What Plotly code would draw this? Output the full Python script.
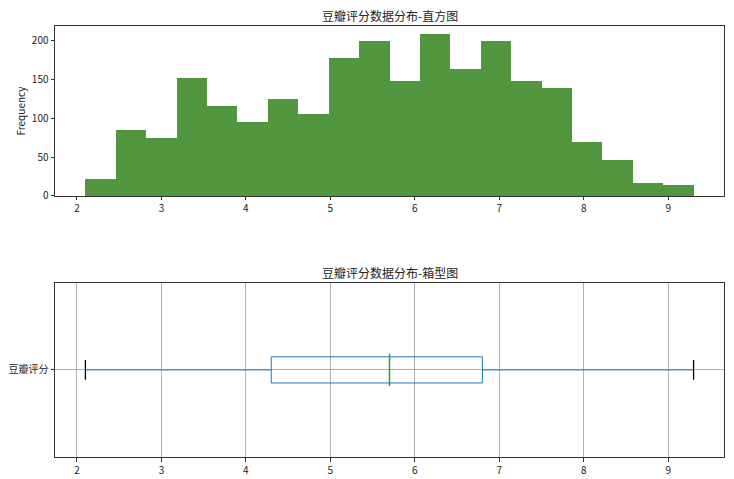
import plotly.graph_objects as go
from plotly.subplots import make_subplots

# histogram: 20 bins between min and max rating
bin_start = 2.1
bin_end = 9.3
bin_counts = [22, 85, 75, 152, 116, 95, 125, 105, 178, 200,
              148, 209, 163, 200, 148, 139, 69, 46, 17, 14]

# box plot stats
box_label = ['豆瓣评分']
q_min = [2.1]
q1 = [4.3]
q_median = [5.7]
q3 = [6.8]
q_max = [9.3]

n_bins = len(bin_counts)
bin_w = (bin_end - bin_start) / n_bins
bin_centers = [bin_start + bin_w * (i + 0.5) for i in range(n_bins)]

font = "Noto Sans CJK SC, DejaVu Sans, sans-serif"

fig = make_subplots(rows=2, cols=1)

fig.add_trace(go.Bar(x=bin_centers, y=bin_counts, width=bin_w,
                     marker=dict(color='#52963f', line=dict(width=0)),
                     showlegend=False), row=1, col=1)

fig.add_trace(go.Box(y=box_label, q1=q1, median=q_median, q3=q3,
                     lowerfence=q_min, upperfence=q_max, orientation='h',
                     width=0.15, whiskerwidth=0.01,
                     fillcolor='rgba(0,0,0,0)',
                     line=dict(color='#1f77b4', width=1),
                     boxpoints=False, hoverinfo='skip', showlegend=False), row=2, col=1)

# black whisker caps and green median line on top of the box
fig.add_trace(go.Scatter(x=q_min + q_max, y=box_label * 2, mode='markers',
                         marker=dict(symbol='line-ns', size=14,
                                     line=dict(color='black', width=1.3)),
                         showlegend=False, hoverinfo='skip'), row=2, col=1)
fig.add_trace(go.Scatter(x=q_median, y=box_label, mode='markers',
                         marker=dict(symbol='line-ns', size=23, color='#2ca02c',
                                     line=dict(color='#2ca02c', width=1.5)),
                         showlegend=False, hoverinfo='skip'), row=2, col=1)

axis_style = dict(showline=True, linecolor='#333', linewidth=1, mirror=True,
                  ticks='outside', ticklen=3.5, tickcolor='#333', automargin=False,
                  tickfont=dict(size=10, color='#222', family=font), zeroline=False)

fig.update_xaxes(range=[1.74, 9.66], dtick=1, showgrid=False, **axis_style, row=1, col=1)
fig.update_yaxes(range=[0, 219], dtick=50, showgrid=False, domain=[0.592, 0.977],
                 title=dict(text='Frequency', font=dict(size=10, color='#222', family=font), standoff=4),
                 **axis_style, row=1, col=1)
fig.update_xaxes(range=[1.74, 9.66], dtick=1, showgrid=True, gridcolor='#b0b0b0',
                 **axis_style, row=2, col=1)
fig.update_yaxes(range=[-0.5, 0.5], showgrid=True, gridcolor='#b0b0b0', domain=[0, 0.395],
                 **axis_style, row=2, col=1)

titles = [('豆瓣评分数据分布-直方图', 0.977), ('豆瓣评分数据分布-箱型图', 0.395)]
for text, ytop in titles:
    fig.add_annotation(text=text, x=0.5, y=ytop, xref='paper', yref='paper',
                       xanchor='center', yanchor='bottom', yshift=0, showarrow=False,
                       font=dict(size=12, color='#222', family=font))

# page body adds an 8px margin, so the figure is 8px smaller than the window
fig.update_layout(width=726, height=471, plot_bgcolor='white', paper_bgcolor='white',
                  margin=dict(l=47, r=10, t=8, b=22), bargap=0,
                  font=dict(family=font))

fig.write_html("out.html")
